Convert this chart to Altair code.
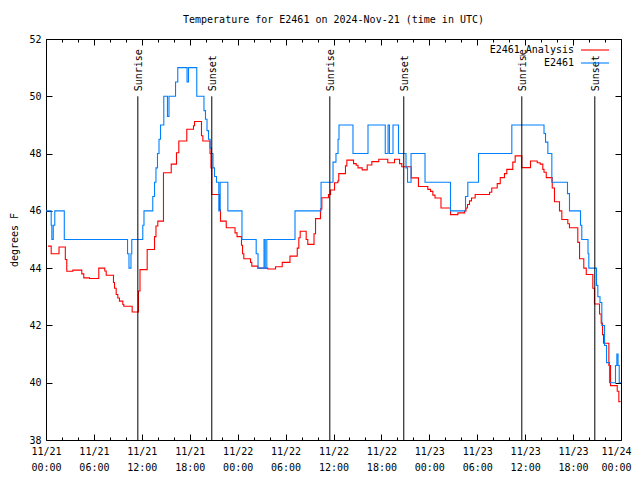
import altair as alt
import pandas as pd

# ---------------- data ----------------
series_names = ["E2461_Analysis", "E2461"]
series_colors = ["#ff0000", "#0080ff"]

# observed station temperature (hours after 2024-11-21 00:00 UTC, deg F), step series
obs_hours = [0.00, 0.65, 0.73, 0.91, 1.10, 2.29, 10.21, 10.39, 10.64, 10.74,
             12.12, 12.27, 13.37, 13.59, 13.77, 13.96, 14.15, 14.34, 14.75, 15.21,
             15.40, 16.22, 16.50, 17.66, 17.84, 18.88, 19.78, 19.97, 20.16, 20.35,
             20.54, 20.72, 20.91, 21.10, 21.35, 21.64, 21.81, 22.77, 24.54, 26.32,
             26.55, 27.30, 27.45, 27.65, 31.18, 34.44, 35.94, 36.31,
             36.57, 36.69, 38.44, 40.32, 42.48, 42.83, 43.01, 43.45, 44.14, 45.08,
             45.27, 45.71, 47.46, 50.65, 52.53, 52.82, 54.16, 58.33, 62.36, 62.55,
             62.84, 63.34, 65.30, 65.55, 66.93, 67.09, 67.87, 67.97, 68.93, 69.10,
             69.37, 69.60, 69.94, 70.19, 70.56, 71.31, 71.48, 71.63, 71.78, 72.00]
obs_temp = [46.0, 45.5, 45.0, 45.5, 46.0, 45.0, 44.5, 44.0, 44.5, 45.0,
            45.5, 46.0, 46.5, 47.0, 47.5, 48.0, 48.5, 49.0, 50.0, 49.3,
            50.0, 50.5, 51.0, 50.5, 51.0, 50.0, 49.5, 49.2, 48.8, 48.5,
            48.2, 48.0, 47.5, 47.2, 47.0, 46.0, 47.0, 46.0, 45.0, 44.5,
            44.0, 45.0, 44.0, 45.0, 46.0, 47.0, 47.7, 48.0,
            48.5, 49.0, 48.0, 49.0, 48.0, 49.0, 48.0, 49.0, 48.0, 47.5,
            47.0, 48.0, 47.0, 46.0, 46.5, 47.0, 48.0, 49.0, 48.7, 48.4,
            48.0, 47.0, 46.6, 46.0, 45.5, 45.0, 44.5, 44.0, 43.4, 43.0,
            42.8, 42.0, 41.3, 40.7, 40.0, 40.6, 41.0, 40.6, 40.0, 40.0]

# analysis temperature, step series
ana_hours = [0.25, 0.65, 1.63, 2.42, 2.60, 3.36, 4.48, 4.73, 5.45, 6.61,
             7.36, 7.54, 8.45, 8.58, 8.79, 8.99, 9.20, 9.62, 9.74, 10.79,
             11.58, 11.77, 12.67, 13.59, 13.77, 14.00, 14.71, 15.68, 16.34, 16.63,
             17.63, 18.47, 18.60, 19.47, 19.64, 20.54, 20.66, 20.76, 21.73, 21.85,
             22.57, 23.67, 23.92, 24.48, 24.61, 24.77, 25.61, 25.77, 26.52, 27.77,
             28.74, 29.58, 30.55, 31.46, 31.66, 31.83, 32.58, 32.78, 33.56, 33.75,
             34.37, 34.54, 35.37, 35.63, 36.13, 36.54, 36.66, 37.50, 37.67, 38.51,
             38.84, 39.07, 39.59, 40.22, 40.80, 41.67, 42.80, 43.64, 44.27, 44.55,
             45.73, 46.64, 47.81, 48.15, 48.44, 48.71, 49.46, 50.65, 51.57, 52.41,
             52.59, 52.78, 53.03, 53.28, 53.74, 55.54, 55.82, 56.50, 56.88, 57.41,
             57.70, 58.45, 58.75, 59.58, 60.67, 61.51, 61.88, 62.21, 62.36, 62.64,
             63.39, 63.67, 64.30, 64.59, 65.34, 65.55, 66.59, 66.81, 67.34, 67.65,
             68.47, 68.68, 69.31, 69.52, 69.69, 69.81, 70.48, 70.69, 71.53, 71.73,
             71.94]
ana_temp = [44.77, 44.50, 44.74, 44.30, 43.89, 43.93, 43.80, 43.66, 43.64, 44.00,
            43.90, 43.75, 43.50, 43.30, 43.08, 42.96, 42.85, 42.73, 42.67, 42.47,
            43.20, 43.95, 44.65, 45.10, 45.47, 45.64, 47.33, 47.63, 48.03, 48.44,
            48.85, 48.97, 49.12, 48.62, 48.44, 48.00, 47.50, 46.57, 46.05, 45.64,
            45.41, 45.23, 45.10, 44.80, 44.50, 44.33, 44.20, 44.07, 44.00, 43.97,
            44.05, 44.20, 44.42, 44.70, 45.06, 45.29, 45.00, 44.83, 45.20, 45.73,
            46.07, 46.46, 46.57, 46.73, 46.98, 47.04, 47.30, 47.57, 47.77, 47.65,
            47.59, 47.50, 47.43, 47.60, 47.72, 47.80, 47.68, 47.80, 47.65, 47.54,
            47.15, 46.85, 46.75, 46.68, 46.55, 46.45, 46.10, 45.87, 45.93, 46.00,
            46.10, 46.22, 46.35, 46.45, 46.57, 46.65, 46.80, 46.95, 47.16, 47.30,
            47.45, 47.70, 47.92, 47.51, 47.74, 47.68, 47.63, 47.45, 47.35, 47.16,
            46.80, 46.32, 46.00, 45.70, 45.55, 45.41, 44.90, 44.33, 44.00, 43.78,
            43.30, 42.75, 42.40, 42.08, 41.68, 41.38, 40.60, 39.90, 39.70, 39.34,
            39.34]

sun_hours = [11.50, 20.76, 35.54, 44.80, 59.58, 68.72]
sun_names = ["Sunrise", "Sunset", "Sunrise", "Sunset", "Sunrise", "Sunset"]
sun_low = 38
sun_high = 50

y_tick_values = [38, 40, 42, 44, 46, 48, 50, 52]
x_tick_hours = [0, 2, 4, 6, 8, 10, 12, 14, 16, 18, 20, 22, 24, 26, 28, 30, 32, 34,
                36, 38, 40, 42, 44, 46, 48, 50, 52, 54, 56, 58, 60, 62, 64, 66, 68, 70, 72]

title_text = "Temperature for E2461 on 2024-Nov-21 (time in UTC)"
y_title = "degrees F"

# ---------------- build tables ----------------
start = pd.Timestamp("2024-11-21 00:00", tz="UTC")


def iso(hours):
    return list((start + pd.to_timedelta(hours, unit="h")).strftime("%Y-%m-%dT%H:%M:%SZ"))


df = pd.concat([
    pd.DataFrame({"t": iso(ana_hours), "temp": ana_temp, "series": series_names[0]}),
    pd.DataFrame({"t": iso(obs_hours), "temp": obs_temp, "series": series_names[1]}),
], ignore_index=True)

sun_df = pd.DataFrame({"t": iso(sun_hours), "name": sun_names,
                       "lo": sun_low, "hi": sun_high})
leg_df = pd.DataFrame({"series": series_names})


def dt(h):
    return alt.DateTime(year=2024, month=11, date=21 + h // 24, hours=h % 24, utc=True)


x_values = [dt(h) for h in x_tick_hours]

FONT = "DejaVu Sans Mono"
x_scale = alt.Scale(type="utc", domain=[dt(0), dt(72)], nice=False)
y_scale = alt.Scale(domain=[38, 52], nice=False, zero=False)
color_scale = alt.Scale(domain=series_names, range=series_colors)

major = "utchours(datum.value) % 6 == 0"

x_axis_bottom = alt.Axis(
    values=x_values, grid=False, title=None,
    labelExpr=f"{major} ? [utcFormat(datum.value, '%m/%d'), utcFormat(datum.value, '%H:%M')] : ''",
    tickSize=alt.ExprRef(f"{major} ? -6 : -3"),
    labelOffset=alt.ExprRef("utcdate(datum.value) == 24 ? -5 : 0"),
    labelPadding=12, labelLineHeight=16, labelAngle=0,
    labelOverlap=False, labelFlush=False, labelBound=False,
)
x_axis_top = alt.Axis(
    values=x_values, grid=False, title=None, labels=False, orient="top",
    tickSize=alt.ExprRef(f"{major} ? -6 : -3"),
)
y_axis_left = alt.Axis(values=y_tick_values, grid=False, title=y_title,
                       tickSize=alt.ExprRef("-6"), labelPadding=11, format="d",
                       titlePadding=9)
y_axis_right = alt.Axis(values=y_tick_values, grid=False, title=None, labels=False,
                        orient="right", tickSize=alt.ExprRef("-6"))

base = alt.Chart(df)

red = base.transform_filter(alt.datum.series == series_names[0]).mark_line(
    interpolate="step-after", strokeWidth=1.1).encode(
    x=alt.X("t:T", scale=x_scale, axis=x_axis_bottom),
    y=alt.Y("temp:Q", scale=y_scale, axis=y_axis_left),
    color=alt.Color("series:N", scale=color_scale, legend=None),
)
blue = base.transform_filter(alt.datum.series == series_names[1]).mark_line(
    interpolate="step-after", strokeWidth=1.1).encode(
    x=alt.X("t:T", scale=x_scale, axis=None),
    y=alt.Y("temp:Q", scale=y_scale, axis=None),
    color=alt.Color("series:N", scale=color_scale, legend=None),
)

sun_rules = alt.Chart(sun_df).mark_rule(color="black", strokeWidth=1).encode(
    x=alt.X("t:T", scale=x_scale, axis=None),
    y=alt.Y("lo:Q", scale=y_scale, axis=None),
    y2="hi:Q",
)
sun_text = alt.Chart(sun_df).mark_text(
    angle=270, align="left", baseline="middle", dx=5, dy=1,
    font=FONT, fontSize=10, color="black").encode(
    x=alt.X("t:T", scale=x_scale, axis=None),
    y=alt.Y("hi:Q", scale=y_scale, axis=None),
    text="name:N",
)

legend_rows_y = [11, 24]
legend_layers = []
for name, yy in zip(series_names, legend_rows_y):
    sel = alt.Chart(leg_df).transform_filter(alt.datum.series == name)
    legend_layers.append(sel.mark_text(align="right", baseline="middle", font=FONT,
                                       fontSize=10, color="black").encode(
        x=alt.value(528), y=alt.value(yy), text="series:N"))
    legend_layers.append(sel.mark_rule(strokeWidth=1.1).encode(
        x=alt.value(535), x2=alt.value(563), y=alt.value(yy),
        color=alt.Color("series:N", scale=color_scale, legend=None)))

mirror = base.mark_point(opacity=0).encode(
    x=alt.X("t:T", scale=x_scale, axis=x_axis_top),
    y=alt.Y("temp:Q", scale=y_scale, axis=y_axis_right),
)

chart = alt.layer(red, blue, sun_rules, sun_text, *legend_layers, mirror).resolve_axis(
    x="independent", y="independent"
).properties(
    width=575, height=401,
    title=alt.TitleParams(title_text, font=FONT, fontSize=10, fontWeight="normal",
                          color="black", anchor="middle", offset=9),
    autosize=alt.AutoSizeParams(type="none"),
    padding={"left": 38, "top": 31, "right": 11, "bottom": 40},
).configure_view(stroke=None).configure_axis(
    labelFont=FONT, labelFontSize=10, labelColor="black",
    titleFont=FONT, titleFontSize=10, titleFontWeight="normal", titleColor="black",
    domainColor="black", tickColor="black", domainWidth=1, tickWidth=1,
)

chart.save("out.html", embed_options={"renderer": "svg", "actions": False})
